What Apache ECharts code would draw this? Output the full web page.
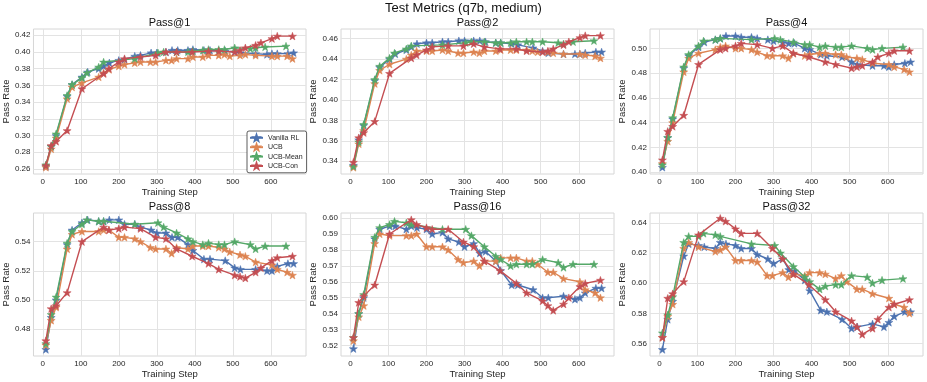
<!DOCTYPE html>
<html><head><meta charset="utf-8">
<script src="https://cdn.jsdelivr.net/npm/echarts@6/dist/echarts.min.js"></script>
<style>html,body{margin:0;padding:0;background:#fff}#c{width:927px;height:382px}</style>
</head><body><div id="c"></div><script>
// ---- data ----
const seriesNames = ['Vanilla RL', 'UCB', 'UCB-Mean', 'UCB-Con'];
const panelTitles = ['Pass@1', 'Pass@2', 'Pass@4', 'Pass@8', 'Pass@16', 'Pass@32'];
const xTicks = [0, 100, 200, 300, 400, 500, 600];

const stepsVanilla = [8, 22, 35, 64, 77, 103, 118, 147, 160, 175, 200, 215, 242, 257, 285, 300, 324, 340, 355, 382, 395, 424, 440, 480, 505, 520, 560, 590, 603, 617, 645, 660];
const stepsUCB = [8, 22, 35, 64, 77, 103, 147, 160, 174, 200, 215, 242, 257, 283, 297, 324, 339, 352, 382, 395, 421, 436, 463, 478, 492, 519, 533, 560, 603, 617, 643, 657];
const stepsMean = [8, 22, 35, 64, 77, 103, 116, 147, 160, 242, 303, 318, 352, 382, 395, 421, 436, 463, 478, 505, 546, 560, 585, 640];
const stepsCon = [8, 22, 35, 64, 103, 160, 174, 200, 215, 257, 297, 324, 352, 393, 436, 463, 505, 519, 533, 560, 574, 603, 617, 657];

// Pass@1
const p1Vanilla = [.263,.287,.300,.347,.361, .370,.376,.380,.383,.387, .390,.391,.395,.396,.399, .399,.400,.402,.402,.402, .403,.402,.402,.401,.400, .399,.398,.397,.398,.398, .398,.399];
const p1UCB = [.262,.284,.297,.344,.358, .363,.370,.375,.379,.383, .385,.387,.388,.388,.388, .390,.390,.392,.392,.394, .394,.396,.396,.397,.395, .396,.397,.396,.395,.395, .395,.392];
const p1Mean = [.265,.287,.302,.348,.361, .369,.375,.382,.388,.392, .399,.400,.400,.400,.401, .402,.403,.403,.403,.405, .404,.405,.406,.407];
const p1Con = [.264,.288,.293,.306,.356, .374,.380,.388,.392,.394, .396,.400,.400,.400,.401, .401,.400,.402,.405,.408, .411,.416,.419,.419];
const p1Ticks = [0.26, 0.28, 0.30, 0.32, 0.34, 0.36, 0.38, 0.40, 0.42];
// Pass@2
const p2Vanilla = [.336,.361,.375,.419,.432, .440,.445,.449,.452,.455, .456,.456,.457,.457,.458, .458,.458,.458,.457,.456, .456,.455,.454,.451,.448, .446,.445,.445,.445,.446, .447,.447];
const p2UCB = [.334,.357,.370,.416,.429, .435,.440,.444,.448,.448, .448,.449,.448,.446,.446, .447,.446,.448,.448,.449, .449,.449,.449,.448,.447, .447,.446,.445,.445,.444, .443,.441];
const p2Mean = [.335,.359,.376,.420,.433, .441,.446,.450,.453,.454, .456,.457,.457,.456,.456, .456,.457,.457,.457,.457, .456,.455,.457,.458];
const p2Con = [.339,.363,.368,.379,.426, .441,.444,.449,.452,.453, .453,.455,.452,.450,.450, .448,.447,.448,.450,.454, .457,.461,.463,.463];
const p2Ticks = [0.34, 0.36, 0.38, 0.40, 0.42, 0.44, 0.46];
// Pass@4
const p4Vanilla = [.404,.428,.443,.484,.494, .501,.505,.507,.508,.510, .510,.509,.509,.508,.507, .506,.505,.504,.504,.500, .499,.495,.494,.493,.489, .487,.486,.486,.485,.487, .488,.489];
const p4UCB = [.407,.425,.440,.481,.492, .496,.499,.501,.502,.500, .500,.499,.497,.494,.494, .494,.492,.496,.494,.495, .496,.496,.495,.495,.493, .492,.491,.488,.487,.485, .483,.481];
const p4Mean = [.406,.428,.444,.485,.495, .502,.506,.507,.508,.507, .508,.507,.505,.503,.503, .501,.502,.501,.501,.502, .500,.499,.500,.501];
const p4Con = [.410,.433,.437,.446,.487, .499,.500,.502,.504,.503, .500,.502,.496,.493,.489, .487,.484,.485,.486,.489, .493,.496,.498,.498];
const p4Ticks = [0.40, 0.42, 0.44, 0.46, 0.48, 0.50];
// Pass@8
const p8Vanilla = [.466,.488,.500,.538,.548, .553,.555,.554,.554,.555, .555,.552,.552,.550,.548, .546,.546,.543,.543,.538, .534,.528,.528,.527,.522, .521,.521,.520,.520,.523, .525,.525];
const p8UCB = [.469,.486,.495,.535,.545, .547,.547,.548,.548,.543, .543,.542,.540,.536,.535, .535,.532,.536,.535,.537, .537,.537,.536,.535,.533, .531,.530,.526,.524,.521, .519,.517];
const p8Mean = [.470,.490,.502,.539,.547, .552,.555,.554,.554,.552, .553,.550,.546,.542,.540, .538,.539,.538,.538,.540, .538,.535,.537,.537];
const p8Con = [.472,.494,.496,.505,.540, .550,.548,.549,.550,.549, .543,.542,.535,.530,.525, .521,.517,.516,.515,.519, .522,.527,.529,.530];
const p8Ticks = [0.48, 0.50, 0.52, 0.54];
// Pass@16
const p16Vanilla = [.518,.540,.550,.587,.593, .595,.595,.593,.595,.594, .593,.590,.591,.587,.585, .582,.584,.578,.579,.573, .567,.558,.558,.555,.550, .550,.551,.549,.550,.553, .556,.556];
const p16UCB = [.523,.538,.545,.584,.590, .589,.589,.589,.590,.582, .582,.582,.580,.574,.572, .573,.570,.573,.573,.575, .575,.575,.573,.573,.571, .566,.566,.562,.560,.555, .553,.550];
const p16Mean = [.525,.540,.552,.588,.594, .596,.598,.597,.596,.593, .593,.589,.582,.576,.574, .570,.571,.571,.571,.574, .572,.569,.571,.571];
const p16Con = [.525,.547,.551,.558,.590, .599,.596,.594,.593,.593, .585,.582,.573,.567,.559, .553,.548,.545,.542,.546, .550,.557,.559,.561];
const p16Ticks = [0.52, 0.53, 0.54, 0.55, 0.56, 0.57, 0.58, 0.59, 0.60];
// Pass@32
const p32Vanilla = [.556,.576,.588,.618,.626, .625,.624,.623,.627,.626, .625,.623,.623,.619,.616, .613,.616,.609,.608,.602, .595,.582,.581,.576,.570, .571,.573,.571,.574,.578, .581,.581];
const p32UCB = [.564,.578,.586,.623,.627, .624,.621,.622,.624,.615, .615,.615,.614,.605,.605, .607,.604,.606,.605,.607, .607,.606,.603,.605,.601, .596,.596,.593,.590,.586, .584,.580];
const p32Mean = [.567,.579,.591,.627,.631, .631,.633,.632,.631,.626, .625,.620,.611,.604,.601, .596,.598,.599,.599,.605, .604,.600,.602,.603];
const p32Con = [.564,.590,.593,.601,.632, .643,.641,.636,.633,.633, .623,.616,.606,.599,.589, .581,.575,.571,.566,.570, .576,.584,.586,.589];
const p32Ticks = [0.56, 0.58, 0.60, 0.62, 0.64];

// ---- layout / style ----
const colors = ['#4C72B0', '#DD8452', '#55A868', '#C44E52'];
const stepsAll = [stepsVanilla, stepsUCB, stepsMean, stepsCon];
const panelData = [
  [p1Vanilla, p1UCB, p1Mean, p1Con],
  [p2Vanilla, p2UCB, p2Mean, p2Con],
  [p4Vanilla, p4UCB, p4Mean, p4Con],
  [p8Vanilla, p8UCB, p8Mean, p8Con],
  [p16Vanilla, p16UCB, p16Mean, p16Con],
  [p32Vanilla, p32UCB, p32Mean, p32Con]
];
const panelTicks = [p1Ticks, p2Ticks, p4Ticks, p8Ticks, p16Ticks, p32Ticks];
const yRanges = [[0.254, 0.4275], [0.3275, 0.4695], [0.3986, 0.5156], [0.4615, 0.5597], [0.5134, 0.6032], [0.5517, 0.6465]];
const lefts = [33, 341, 650];
const tops = [29, 213];
const heights = [145, 143];
const W = 273;
const FONT = 'Liberation Sans, Arial, sans-serif';
const TXT = '#262626';
const GRIDC = '#e3e3e3';
const star = 'path://M0,-10 L2.35,-3.24 L9.51,-3.09 L3.8,1.24 L5.88,8.09 L0,4 L-5.88,8.09 L-3.8,1.24 L-9.51,-3.09 L-2.35,-3.24 Z';

const grids = [], xAxes = [], yAxes = [], series = [], titles = [];
titles.push({text: 'Test Metrics (q7b, medium)', left: 463.5, top: 2, textAlign: 'center', padding: 0,
  textStyle: {fontFamily: FONT, fontSize: 13, fontWeight: 'normal', color: '#111'}});
const titleTops = [17.5, 201.5];
for (let i = 0; i < 6; i++) {
  const r = Math.floor(i / 3), c = i % 3;
  grids.push({left: lefts[c], top: tops[r], width: W, height: heights[r], show: true,
    borderColor: '#d6d6d6', borderWidth: 1, backgroundColor: '#fff', containLabel: false});
  titles.push({text: panelTitles[i], left: lefts[c] + W / 2, top: titleTops[r], textAlign: 'center', padding: 0,
    textStyle: {fontFamily: FONT, fontSize: 11, fontWeight: 'normal', color: '#111'}});
  xAxes.push({type: 'value', gridIndex: i, min: -24.6, max: 692.6,
    name: 'Training Step', nameLocation: 'middle', nameGap: 13,
    nameTextStyle: {fontFamily: FONT, fontSize: 9.5, color: TXT},
    axisLine: {show: false}, axisTick: {show: false, customValues: xTicks},
    axisLabel: {customValues: xTicks, fontFamily: FONT, fontSize: 8, color: TXT, margin: 4},
    splitLine: {show: true, lineStyle: {color: GRIDC, width: 1}}});
  const yt = panelTicks[i];
  yAxes.push({type: 'value', gridIndex: i, min: yRanges[i][0], max: yRanges[i][1],
    name: 'Pass Rate', nameLocation: 'middle', nameGap: 17,
    nameTextStyle: {fontFamily: FONT, fontSize: 9.5, color: TXT},
    axisLine: {show: false}, axisTick: {show: false, customValues: yt},
    axisLabel: {customValues: yt, fontFamily: FONT, fontSize: 8, color: TXT, margin: 3,
      formatter: v => v.toFixed(2)},
    splitLine: {show: true, lineStyle: {color: GRIDC, width: 1}}});
  for (let s = 0; s < 4; s++) {
    const xs = stepsAll[s], ys = panelData[i][s];
    series.push({type: 'line', name: seriesNames[s], xAxisIndex: i, yAxisIndex: i,
      data: xs.map((x, k) => [x, ys[k]]),
      symbol: star, symbolSize: 8, symbolKeepAspect: true, showSymbol: true,
      lineStyle: {color: colors[s], width: 1.4},
      itemStyle: {color: colors[s], borderColor: colors[s], borderWidth: 0.5},
      emphasis: {disabled: true}, z: 2 + s});
  }
}

const chart = echarts.init(document.getElementById('c'), null, {renderer: 'canvas'});
chart.setOption({
  animation: false,
  backgroundColor: '#fff',
  title: titles,
  grid: grids,
  xAxis: xAxes,
  yAxis: yAxes,
  legend: {data: seriesNames, orient: 'vertical', left: 247, top: 131,
    backgroundColor: '#fff', borderColor: '#333', borderWidth: 0.8, borderRadius: 2,
    padding: [3, 4, 3, 2], itemGap: 1.8, itemWidth: 13, itemHeight: 7,
    textStyle: {fontFamily: FONT, fontSize: 7, color: TXT}},
  series: series
});
</script></body></html>
